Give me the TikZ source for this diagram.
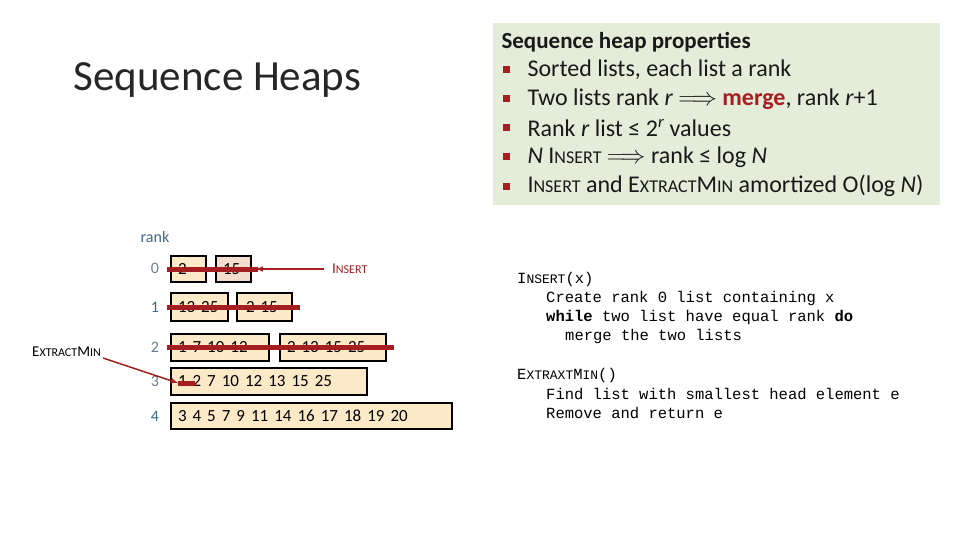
\documentclass[tikz,border=0pt]{standalone}
\usepackage{fontspec}
\setmainfont{Carlito}
\setmonofont{Liberation Mono}
\definecolor{dred}{HTML}{A51E22}
\definecolor{boxf}{HTML}{FCE9C8}
\definecolor{boxp}{HTML}{F4DCCF}
\definecolor{greenf}{HTML}{E3EDD9}
\definecolor{rblue}{HTML}{3F6A8A}
\definecolor{rgray}{HTML}{6B7F90}
\newcommand{\mysc}[1]{{\fontsize{12}{12}\selectfont\MakeUppercase{#1}}}
\newcommand{\bsc}[1]{{\fontsize{18}{18}\selectfont\MakeUppercase{#1}}}
\newcommand{\wide}{\spaceskip=6pt plus 1pt\relax}
\begin{document}
\begin{tikzpicture}[x=1pt,y=-1pt,
  lbox/.style={draw=black,line width=1.3pt,fill=boxf,inner sep=0pt,inner xsep=7pt,text width=#1,align=left,
     font=\fontsize{17}{17}\selectfont,minimum height=27pt},
  lbox/.default=30pt,
  strike/.style={draw=dred,line width=5pt},
  arr/.style={draw=dred,line width=1.5pt,-latex},
  ranknum/.style={font=\fontsize{16}{16}\selectfont,text=rgray},
  code/.style={font=\ttfamily\fontsize{15.5}{15.5}\selectfont,anchor=west,inner sep=0pt}]
\useasboundingbox (0,0) rectangle (960,540);
\fill[white] (0,0) rectangle (960,540);
\node[font=\fontsize{43}{43}\selectfont,anchor=west,text=black!85] (title) at (70,80) {Sequence Heaps};
% property box
\fill[greenf] (493,23) rectangle (940,205);
\node[anchor=west,font=\bfseries\fontsize{23}{23}\selectfont,text=black!90] (pt) at (498,42) {Sequence heap properties};
\foreach \y/\t [count=\i] in {70/{Sorted lists, each list a rank},
  99/{Two lists rank \textit{r} $\Longrightarrow$ \textcolor{dred}{\bfseries merge}, rank \textit{r}+1},
  128/{Rank \textit{r} list ≤ 2\textsuperscript{\itshape r} values},
  157/{\textit{N} I\bsc{nsert} $\Longrightarrow$ rank ≤ log \textit{N}},
  186/{I\bsc{nsert} and E\bsc{xtract}M\bsc{in} amortized O(log \textit{N})}}{
  \fill[dred] (503,\y-3.5) rectangle (510,\y+3.5);
  \node[anchor=west,font=\fontsize{24}{24}\selectfont,text=black!90] (p\i) at (524,\y) {\t};
}
% rank labels
\node[text=rblue,font=\fontsize{16}{16}\selectfont] (rk) at (155,237) {rank};
\node[ranknum] (r0) at (155,268) {0};
\node[ranknum,text=rblue] (r1) at (155,307) {1};
\node[ranknum] (r2) at (155,347) {2};
\node[ranknum] (r3) at (155,381) {3};
\node[ranknum,text=rblue] (r4) at (155,416) {4};
% lists
\node[lbox=21pt,minimum height=26pt] (a1) at (188.5,269) {\wide 2};
\node[lbox=21pt,fill=boxp,minimum height=26pt] (a2) at (233.5,269) {\wide 15};
\node[lbox=43pt,minimum height=28pt] (b1) at (199.5,307) {\wide 13 25};
\node[lbox=41pt,minimum height=28pt] (b2) at (264.5,307) {\wide\hspace*{2pt}2 15};
\node[lbox=84pt] (c1) at (220,347.5) {\wide 1 7 10 12};
\node[lbox=92pt] (c2) at (333,347.5) {\wide 2 13 15 25};
\node[lbox=182pt] (d1) at (269,381.5) {\wide 1 2 7 10 12 13 15 25};
\node[lbox=267pt,minimum height=26pt] (e1) at (311.5,416) {\wide 3 4 5 7 9 11 14 16 17 18 19 20};
% strikes
\draw[strike] ([xshift=-3pt]a1.west) -- ([xshift=6pt]a2.east);
\draw[strike] ([xshift=-3pt]b1.west) -- ([xshift=7pt]b2.east);
\draw[strike] ([xshift=-3pt]c1.west) -- ([xshift=7pt]c2.east);
\coordinate (s3a) at (178,383);
\coordinate (s3b) at (195,383);
\draw[strike] (s3a) -- (s3b);
% insert
\node[anchor=west,text=dred,inner sep=0pt,font=\fontsize{15}{15}\selectfont] (ins) at (332,269) {I\mysc{nsert}};
\draw[arr] (ins.west) ++(-8,0) coordinate (ia) -- ([xshift=4pt]a2.east);
% extract
\node[anchor=west,inner sep=0pt,font=\fontsize{15}{15}\selectfont] (ext) at (32,352) {E\mysc{xtract}M\mysc{in}};
\draw[arr] (ext.east) ++(2,6) coordinate (ea) -- (s3a);
% code
\node[code] (c1l) at (517,279) {I{\fontsize{13}{13}\selectfont NSERT}(x)};
\node[code] (c2l) at (546,298) {Create rank 0 list containing x};
\node[code] (c3l) at (546,317) {\textbf{while} two list have equal rank \textbf{do}};
\node[code] (c4l) at (565,336) {merge the two lists};
\node[code] (c5l) at (517,375) {E{\fontsize{13}{13}\selectfont XTRAXT}M{\fontsize{13}{13}\selectfont IN}()};
\node[code] (c6l) at (546,394) {Find list with smallest head element e};
\node[code] (c7l) at (546,413) {Remove and return e};
\end{tikzpicture}
\end{document}
